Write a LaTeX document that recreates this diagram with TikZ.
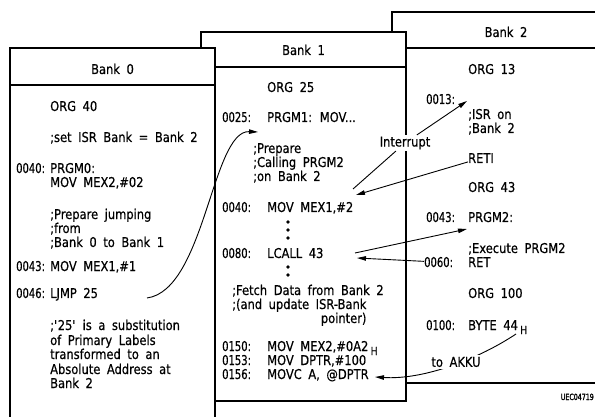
\documentclass[tikz,border=0pt]{standalone}
\usepackage{fontspec}
\setmainfont{DejaVu Sans}[FakeStretch=0.85,WordSpace=1.8,FakeBold=0.5]
\newfontfamily\addrfont{DejaVu Sans}[FakeStretch=0.74,FakeBold=0.5]
\usepackage{tikz}
\usetikzlibrary{positioning,arrows.meta}

\begin{document}
\begin{tikzpicture}[x=1pt,y=-1pt,>={Triangle[length=9pt,width=4.5pt]},
  every node/.style={inner sep=0pt,font=\fontsize{13.5}{14}\selectfont},
  code/.style={anchor=base west},
  addr/.style={anchor=base west,font=\fontsize{13.5}{14}\addrfont},
  head/.style={anchor=base},
  bankbox/.style={draw,fill=white,line width=2pt},
  link/.style={line width=0.9pt},
  onlink/.style={fill=white,inner sep=1.5pt}]
\useasboundingbox (0,0) rectangle (595,417);

% the three banks, back to front
\draw[bankbox] (392,12) rectangle (640,383);
\draw[line width=2pt] (392,48) -- (640,48);
\draw[bankbox] (201,32) rectangle (406,401);
\draw[line width=2pt] (201,67) -- (406,67);
\draw[bankbox] (10,48) rectangle (215,440);
\draw[line width=2pt] (10,85) -- (215,85);

% Bank 0
\node[head] (t0) at (112.5,74) {Bank 0};
\node[code] (b0org) at (50,111) {ORG 40};
\node[code] (b0isr) at (50,142) {;set ISR Bank = Bank 2};
\node[addr] (b0a40) at (16,173) {0040:};
\node[code] (b0prg) at (50,173) {PRGM0:};
\node[code] (b0mov) at (50,187) {MOV MEX2,\#02};
\node[code] (b0c1) at (50,219) {;Prepare jumping};
\node[code] (b0c2) at (50,233) {;from};
\node[code] (b0c3) at (50,247) {;Bank 0 to Bank 1};
\node[addr] (b0a43) at (16,271) {0043:};
\node[code] (b0mex) at (50,271) {MOV MEX1,\#1};
\node[addr] (b0a46) at (16,298) {0046:};
\node[code] (b0jmp) at (50,298) {LJMP 25};
\node[code] (b0n1) at (50,330) {;\textquotesingle 25\textquotesingle{} is a substitution};
\node[code] (b0n2) at (50,345) {of Primary Labels};
\node[code] (b0n3) at (50,359) {transformed to an};
\node[code] (b0n4) at (50,374) {Absolute Address at};
\node[code] (b0n5) at (50,388) {Bank 2};

% Bank 1
\node[head] (t1) at (303.5,55) {Bank 1};
\node[code] (b1org) at (267,92) {ORG 25};
\node[addr] (b1a25) at (222,122) {0025:};
\node[code] (b1prg) at (267,122) {PRGM1: MOV...};
\node[code] (b1c1) at (253,153) {;Prepare};
\node[code] (b1c2) at (253,167) {;Calling PRGM2};
\node[code] (b1c3) at (253,181) {;on Bank 2};
\node[addr] (b1a40) at (222,212) {0040:};
\node[code] (b1mov) at (267,212) {MOV MEX1,\#2};
\node[addr] (b1a80) at (222,258) {0080:};
\node[code] (b1call) at (267,258) {LCALL 43};
\node[code] (b1c4) at (232,295) {;Fetch Data from Bank 2};
\node[code] (b1c5) at (232,309) {;(and update ISR-Bank};
\node[anchor=base east] (b1c6) at ([yshift=-14pt]b1c5.base east) {pointer)};
\node[addr] (b1a150) at (222,351) {0150:};
\node[code] (b1m150) at (267,351) {MOV MEX2,\#0A2\,\raisebox{-4pt}{\fontsize{11}{11}\selectfont H}};
\node[addr] (b1a153) at (222,365) {0153:};
\node[code] (b1m153) at (267,365) {MOV DPTR,\#100};
\node[addr] (b1a156) at (222,379) {0156:};
\node[code] (b1m156) at (267,379) {MOVC A, @DPTR};
\foreach \y in {222,230,238,267,275}
  \fill (288,\y) circle (1.8pt);

% Bank 2
\node[head] (t2) at (506,37) {Bank 2};
\node[code] (b2org13) at (468,74) {ORG 13};
\node[addr] (b2a13) at (426,104) {0013:};
\node[code] (b2c1) at (468,119) {;ISR on};
\node[code] (b2c2) at (468,133) {;Bank 2};
\node[code] (b2reti) at (468,163) {RETI};
\node[code] (b2org43) at (468,192) {ORG 43};
\node[addr] (b2a43) at (426,222) {0043:};
\node[code] (b2prg) at (468,222) {PRGM2:};
\node[code] (b2c3) at (468,253) {;Execute PRGM2};
\node[addr] (b2a60) at (424,267) {0060:};
\node[code] (b2ret) at (468,267) {RET};
\node[code] (b2org100) at (468,298) {ORG 100};
\node[addr] (b2a100) at (426,330) {0100:};
\node[code] (b2byte) at (468,330) {BYTE 44\,\raisebox{-4pt}{\fontsize{11}{11}\selectfont H}};
\node[anchor=base east,font=\fontsize{8.5}{9}\addrfont\addfontfeature{FakeBold=2}] (uec) at (594,400) {UEC04719};

% flow between the banks
\coordinate (irqpt) at (353,189);
\coordinate (retpt) at (356,195);
\coordinate (isrpt) at (467,101);
\coordinate (callpt) at (355,253);
\coordinate (prgpt) at (467,229);
\coordinate (backpt) at (357,258);
\coordinate (jmpfrom) at (147,298);
\coordinate (jmpto) at (258,132);
\coordinate (bytefrom) at (516,334);
\coordinate (movcpt) at (375,377);

\node[onlink] (irq) at (405,143) {Interrupt};
\draw[link] (irq) -- (irqpt);
\draw[link,->] (irq) -- (isrpt);
\draw[link,->] (b2reti) -- (retpt);
\draw[link,->] (callpt) -- (prgpt);
\draw[link,->] (b2a60) -- (backpt);
\draw[link,->] (jmpfrom) .. controls +(58,-8) and +(-46,-2) .. (jmpto);
\draw[link,->] (bytefrom) .. controls (480,358) and (425,380) .. (movcpt);
\node[onlink] (akku) at (456,362) {to AKKU};
\end{tikzpicture}
\end{document}
